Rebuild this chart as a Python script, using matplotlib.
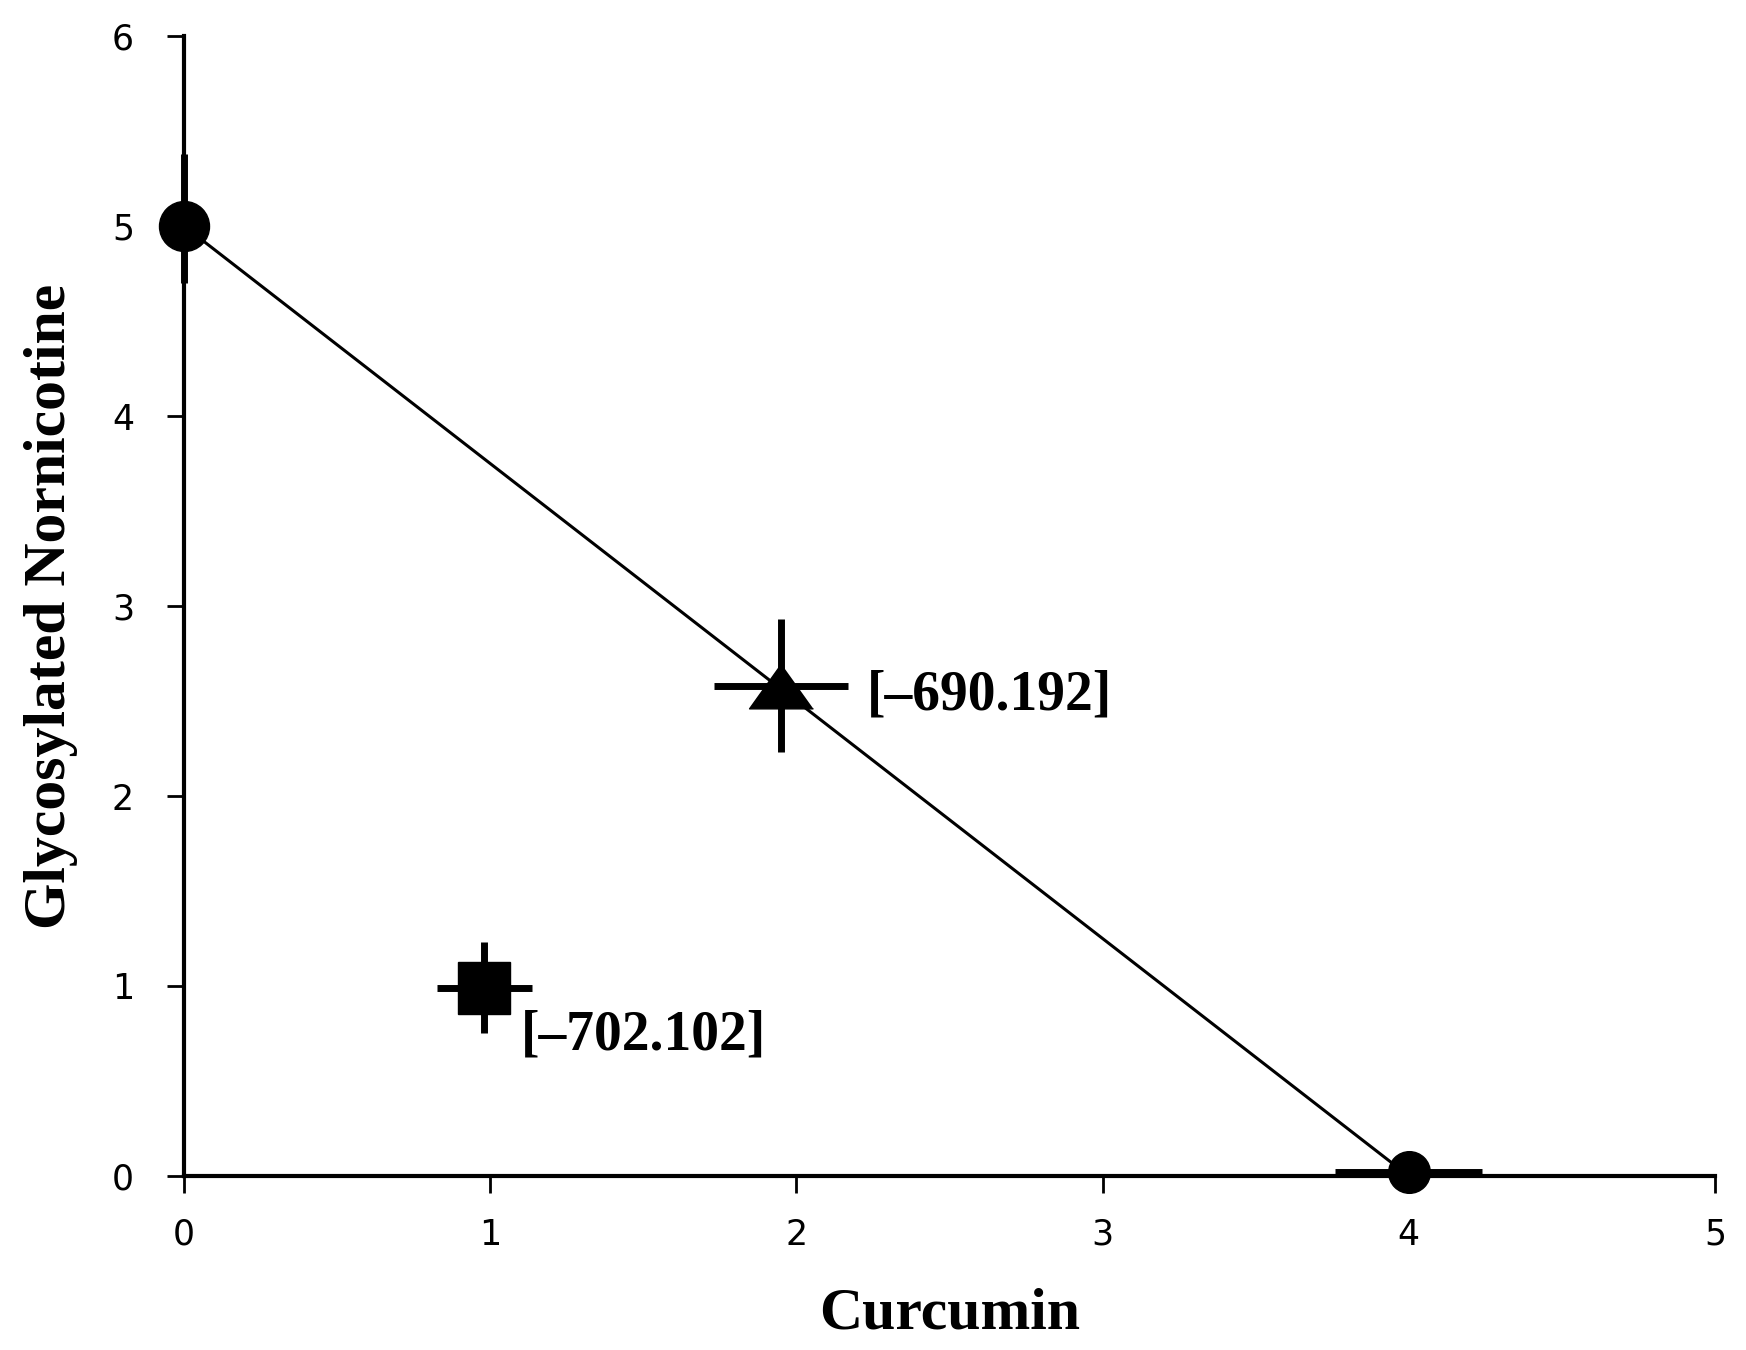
import matplotlib.pyplot as plt

# points
circ_x = [0, 4]
circ_y = [5.0, 0.02]
circ_xerr = [0, 0.24]
circ_yerr = [[0.3, 0], [0.38, 0]]

tri_x = [1.95]
tri_y = [2.58]
tri_xerr = [0.22]
tri_yerr = [0.35]

sq_x = [0.98]
sq_y = [0.99]
sq_xerr = [0.155]
sq_yerr = [0.24]

line_x = [0, 4]
line_y = [5, 0]

labels = ['[\u2013690.192]', '[\u2013702.102]']
label_x = [2.23, 1.10]
label_y = [2.53, 0.74]

xticks = [0, 1, 2, 3, 4, 5]
yticks = [0, 1, 2, 3, 4, 5, 6]

fig = plt.figure(figsize=(17.46, 13.5), dpi=100)
ax = fig.add_axes([0.1054, 0.1289, 0.8768, 0.8444])

ax.plot(line_x, line_y, color='black', lw=2.2, zorder=2, clip_on=False)


def err(x, y, xe, ye):
    eb = ax.errorbar(x, y, xerr=xe, yerr=ye, fmt='none',
                     ecolor='black', elinewidth=5, capsize=0, zorder=3)
    for c in eb.lines[2]:
        c.set_clip_on(False)


err(circ_x, circ_y, circ_xerr, circ_yerr)
ax.plot(circ_x[:1], circ_y[:1], 'o', color='black', ms=36, zorder=4, clip_on=False)
ax.plot(circ_x[1:], circ_y[1:], 'o', color='black', ms=30, zorder=4, clip_on=False)

tri = [(0, 0.7), (-1, -0.7), (1, -0.7)]
err(tri_x, tri_y, tri_xerr, tri_yerr)
ax.plot(tri_x, tri_y, marker=tri, ls='none', color='black', ms=46, zorder=4)

err(sq_x, sq_y, sq_xerr, sq_yerr)
ax.plot(sq_x, sq_y, 's', color='black', ms=37, zorder=4)

for t, x, y in zip(labels, label_x, label_y):
    ax.text(x, y, t, fontsize=40, fontweight='bold', family='Liberation Serif',
            ha='left', va='center')

ax.set_xlim(0, 5)
ax.set_ylim(0, 6)
ax.set_xticks(xticks)
ax.set_yticks(yticks)
ax.spines['top'].set_visible(False)
ax.spines['right'].set_visible(False)
for s in ['left', 'bottom']:
    ax.spines[s].set_linewidth(3)
ax.tick_params(axis='both', direction='out', length=12, width=2, labelsize=25)
ax.tick_params(axis='x', pad=18)
ax.tick_params(axis='y', pad=24)

ax.set_xlabel('Curcumin', fontsize=43, fontweight='bold', family='Liberation Serif', labelpad=26)
ax.set_ylabel('Glycosylated Nornicotine', fontsize=43, fontweight='bold',
              family='Liberation Serif', labelpad=24)

fig.savefig('out.png', dpi=100)
